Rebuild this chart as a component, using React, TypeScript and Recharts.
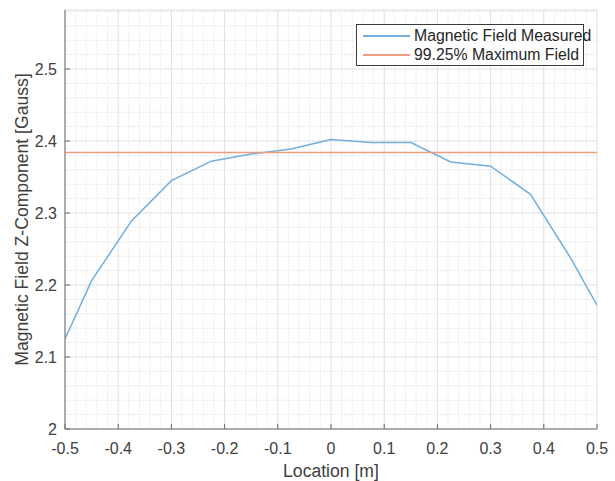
import React from "react";
import { LineChart, Line, XAxis, YAxis, CartesianGrid, ReferenceLine } from "recharts";

const locations = [-0.5, -0.45, -0.375, -0.3, -0.225, -0.15, -0.075, 0, 0.075, 0.15, 0.225, 0.3, 0.375, 0.45, 0.5];
const fieldValues = [2.125, 2.206, 2.289, 2.345, 2.372, 2.382, 2.389, 2.402, 2.398, 2.398, 2.371, 2.365, 2.326, 2.238, 2.172];
const thresholdFraction = 0.9925;
const xTicks = [-0.5, -0.4, -0.3, -0.2, -0.1, 0, 0.1, 0.2, 0.3, 0.4, 0.5];
const yTicks = [2, 2.1, 2.2, 2.3, 2.4, 2.5];
const xTickLabels = ["-0.5", "-0.4", "-0.3", "-0.2", "-0.1", "0", "0.1", "0.2", "0.3", "0.4", "0.5"];
const yTickLabels = ["2", "2.1", "2.2", "2.3", "2.4", "2.5"];
const seriesNames = ["Magnetic Field Measured", "99.25% Maximum Field"];

const maxField = Math.max(...fieldValues);
const threshold = maxField * thresholdFraction;
const data = locations.map((x, i) => ({ x, field: fieldValues[i], threshold }));

const xMinor: number[] = [];
for (let i = -25; i <= 25; i++) if (i % 5 !== 0) xMinor.push(i * 0.02);
const yMinor: number[] = [];
for (let i = 100; i <= 129; i++) if (i % 5 !== 0) yMinor.push(i * 0.02);

const FONT = "'Liberation Sans', Arial, Helvetica, sans-serif";
const TEXT = "#404040";
const AXIS = "#6a6a6a";
const BLUE = "#72AEDF";
const ORANGE = "#EF9C80";

const XTick = (props: any) => {
  const { x, y, payload } = props;
  const idx = xTicks.indexOf(payload.value);
  return (
    <g>
      <line x1={x} x2={x} y1={y} y2={y - 5} stroke={AXIS} strokeWidth={1} />
      <text x={x} y={y + 25} textAnchor="middle" fontSize={16} fill={TEXT} fontFamily={FONT}>
        {idx >= 0 ? xTickLabels[idx] : payload.value}
      </text>
    </g>
  );
};

const YTick = (props: any) => {
  const { x, y, payload } = props;
  const idx = yTicks.findIndex((t) => Math.abs(t - payload.value) < 1e-9);
  return (
    <g>
      <line x1={x} x2={x + 5} y1={y} y2={y} stroke={AXIS} strokeWidth={1} />
      <text x={x - 8} y={y + 6} textAnchor="end" fontSize={16} fill={TEXT} fontFamily={FONT}>
        {idx >= 0 ? yTickLabels[idx] : payload.value}
      </text>
    </g>
  );
};

const LegendBox = () => (
  <div
    style={{
      position: "absolute",
      left: 356,
      top: 24,
      width: 226,
      height: 40,
      border: "1px solid #3a3a3a",
      background: "#ffffff",
      fontFamily: FONT,
      fontSize: 15.8,
      color: "#262626",
      boxSizing: "content-box",
    }}
  >
    {seriesNames.map((name, i) => (
      <div key={name} style={{ position: "absolute", left: 0, top: i === 0 ? 1 : 20, height: 19, display: "flex", alignItems: "center" }}>
        <div style={{ marginLeft: 6, width: 47, height: 0, borderTop: `2px solid ${i === 0 ? BLUE : ORANGE}` }} />
        <span style={{ marginLeft: 4, whiteSpace: "nowrap", lineHeight: "19px" }}>{name}</span>
      </div>
    ))}
  </div>
);

export default function App() {
  return (
    <div style={{ position: "absolute", left: 0, top: 0, width: 615, height: 481, background: "#fff" }}>
      <LineChart width={615} height={481} data={data} margin={{ top: 10, right: 18, bottom: 0, left: 0 }}>
        {xMinor.map((v) => (
          <ReferenceLine key={"xm" + v} x={v} stroke="#e6e6e6" strokeWidth={1} strokeDasharray="1.5 1.5" />
        ))}
        {yMinor.map((v) => (
          <ReferenceLine key={"ym" + v} y={v} stroke="#e2e2e2" strokeWidth={1} strokeDasharray="1.5 1.5" />
        ))}
        <CartesianGrid stroke="#e0e0e0" strokeWidth={1} />
        <XAxis
          dataKey="x"
          type="number"
          domain={[-0.5, 0.5]}
          ticks={xTicks}
          interval={0}
          height={52}
          tickSize={0}
          tickMargin={0}
          tickLine={false}
          tick={<XTick />}
          stroke={AXIS}
          allowDataOverflow
          label={{ value: "Location [m]", position: "insideBottom", offset: 4, fontSize: 17.6, fill: TEXT, fontFamily: FONT }}
        />
        <YAxis
          type="number"
          domain={[2, 2.582]}
          ticks={yTicks}
          interval={0}
          width={65}
          tickSize={0}
          tickMargin={0}
          tickLine={false}
          tick={<YTick />}
          stroke={AXIS}
          allowDataOverflow
          label={{ value: "Magnetic Field Z-Component [Gauss]", angle: -90, position: "center", dx: -11, fontSize: 17.6, fill: TEXT, fontFamily: FONT }}
        />
        <Line
          type="linear"
          dataKey="field"
          name={seriesNames[0]}
          stroke={BLUE}
          strokeWidth={1.5}
          dot={false}
          activeDot={false}
          isAnimationActive={false}
        />
        <Line
          type="linear"
          dataKey="threshold"
          name={seriesNames[1]}
          stroke={ORANGE}
          strokeWidth={1.5}
          dot={false}
          activeDot={false}
          isAnimationActive={false}
        />
      </LineChart>
      <LegendBox />
    </div>
  );
}
